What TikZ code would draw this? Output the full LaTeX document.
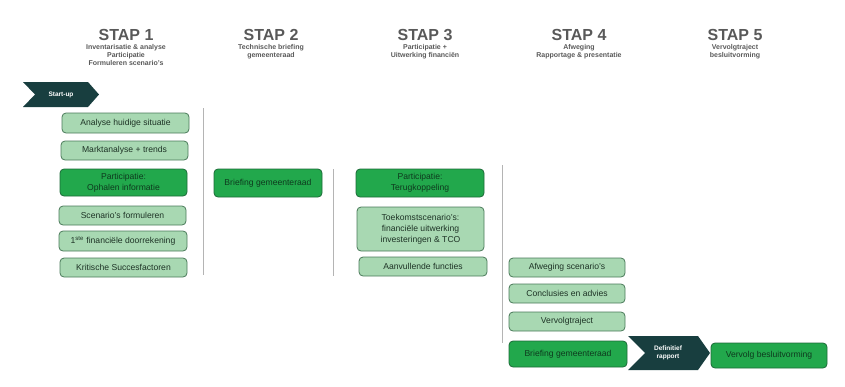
\documentclass[tikz,border=0pt]{standalone}
\usepackage{fontspec}
\setmainfont{Liberation Sans}
\definecolor{lightfill}{HTML}{A8D8B2}
\definecolor{lightdraw}{HTML}{4A7A5A}
\definecolor{darkfill}{HTML}{22A84C}
\definecolor{darkdraw}{HTML}{1C6A38}
\definecolor{boxtext}{HTML}{1E3326}
\definecolor{darktext}{HTML}{0E3A1E}
\definecolor{chevfill}{HTML}{183E3F}
\definecolor{headgray}{HTML}{595959}
\definecolor{sepgray}{HTML}{B4B4B4}
\tikzset{
  boxbase/.style={rounded corners=4pt, line width=0.8pt, inner sep=1pt, align=center,
    font=\fontsize{8.6}{11}\selectfont},
  lbox/.style={boxbase, fill=lightfill, draw=lightdraw, text=boxtext},
  dbox/.style={boxbase, fill=darkfill, draw=darkdraw, text=darktext},
  chevshape/.style={fill=chevfill, draw=none},
  chevtext/.style={text=white, font=\bfseries\fontsize{6.5}{8}\selectfont, align=center, inner sep=0},
  stitle/.style={text=headgray, font=\bfseries\fontsize{16}{18}\selectfont, inner sep=0},
  ssub/.style={text=headgray, font=\bfseries\fontsize{7}{7.7}\selectfont, align=center, inner sep=0, anchor=north},
  sepline/.style={draw=sepgray, line width=0.8pt}
}
\begin{document}
\begin{tikzpicture}[x=1pt,y=-1pt]
\useasboundingbox (0,0) rectangle (845,386);

% headings
\node[stitle] (t1) at (126,35) {STAP 1};
\node[ssub] (s1) at (126,44.5) {Inventarisatie \& analyse\\Participatie\\Formuleren scenario's};
\node[stitle] (t2) at (271,35) {STAP 2};
\node[ssub] (s2) at (271,44.5) {Technische briefing\\gemeenteraad};
\node[stitle] (t3) at (425,35) {STAP 3};
\node[ssub] (s3) at (425,44.5) {Participatie +\\Uitwerking financiën};
\node[stitle] (t4) at (579,35) {STAP 4};
\node[ssub] (s4) at (579,44.5) {Afweging\\Rapportage \& presentatie};
\node[stitle] (t5) at (735,35) {STAP 5};
\node[ssub] (s5) at (735,44.5) {Vervolgtraject\\besluitvorming};

% Start-up chevron
\fill[chevshape] (23,82) -- (88,82) -- (99,94.5) -- (88,107) -- (23,107) -- (35,94.5) -- cycle;
\node[chevtext] (start) at (61,94.5) {Start-up};

% separators
\coordinate (l1a) at (203,108); \coordinate (l1b) at (203,275);
\coordinate (l2a) at (333,169); \coordinate (l2b) at (333,276);
\coordinate (l3a) at (502,165); \coordinate (l3b) at (502,343);
\draw[sepline] (l1a) -- (l1b);
\draw[sepline] (l2a) -- (l2b);
\draw[sepline] (l3a) -- (l3b);

% Stap 1
\node[lbox, minimum width=127pt, minimum height=20pt] (a1) at (125.5,123) {Analyse huidige situatie};
\node[lbox, minimum width=127pt, minimum height=19pt] (a2) at (124.5,150.5) {Marktanalyse + trends};
\node[dbox, minimum width=127pt, minimum height=27pt] (a3) at (123.5,182.5) {Participatie:\\Ophalen informatie};
\node[lbox, minimum width=127pt, minimum height=19pt] (a4) at (122.5,215.5) {Scenario's formuleren};
\node[lbox, minimum width=128pt, minimum height=20pt] (a5) at (123,241) {1\textsuperscript{ste} financiële doorrekening};
\node[lbox, minimum width=127pt, minimum height=19pt] (a6) at (123.5,267.5) {Kritische Succesfactoren};

% Stap 2
\node[dbox, minimum width=108pt, minimum height=28pt] (b1) at (268,183) {Briefing gemeenteraad};

% Stap 3
\node[dbox, minimum width=128pt, minimum height=28pt] (c1) at (420,183) {Participatie:\\Terugkoppeling};
\node[lbox, minimum width=127pt, minimum height=44pt] (c2) at (420.5,229) {Toekomstscenario's:\\financiële uitwerking\\investeringen \& TCO};
\node[lbox, minimum width=128pt, minimum height=19pt] (c3) at (423,266.5) {Aanvullende functies};

% Stap 4
\node[lbox, minimum width=116pt, minimum height=19pt] (d1) at (567,267.5) {Afweging scenario's};
\node[lbox, minimum width=116pt, minimum height=19pt] (d2) at (567,293.5) {Conclusies en advies};
\node[lbox, minimum width=116pt, minimum height=19pt] (d3) at (567,321.5) {Vervolgtraject};
\node[dbox, minimum width=118pt, minimum height=26pt] (d4) at (568,354) {Briefing gemeenteraad};

% Definitief rapport chevron
\fill[chevshape] (628,336) -- (698,336) -- (710,353) -- (698,370) -- (628,370) -- (645,353) -- cycle;
\node[chevtext] (def) at (668,353) {Definitief\\rapport};

% Stap 5
\node[dbox, minimum width=116pt, minimum height=25pt] (e1) at (769,355.5) {Vervolg besluitvorming};
\end{tikzpicture}
\end{document}
